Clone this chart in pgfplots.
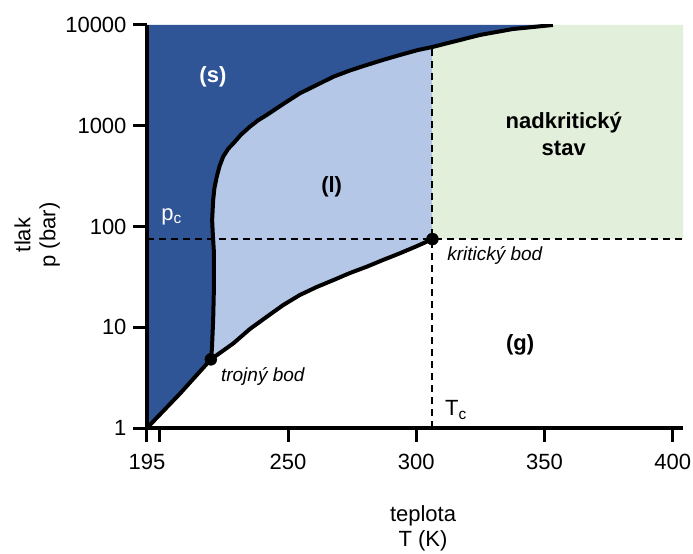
\documentclass[border=0pt]{standalone}
\usepackage{pgfplots}
\pgfplotsset{compat=1.18}
\usepackage{fontspec}
\setmainfont{Liberation Sans}
\definecolor{solidblue}{HTML}{2F5597}
\definecolor{liqblue}{HTML}{B4C7E7}
\definecolor{scgreen}{HTML}{E2EFDA}
\newcommand{\bigf}{\fontsize{22bp}{25bp}\selectfont}
\newcommand{\smallf}{\fontsize{19bp}{22bp}\selectfont}
\begin{document}
\begin{tikzpicture}
\begin{axis}[
  scale only axis, width=536bp, height=403bp,
  xmin=195, xmax=404, ymode=log, ymin=1, ymax=10000,
  axis lines=left, axis line style={-, line width=4bp},
  axis on top,
  xtick={195,200,250,300,350,400}, xticklabels={195,,250,300,350,400},
  ytick={1,10,100,1000,10000}, yticklabels={1,10,100,1000,10000},
  yminorticks=false,
  tick align=outside, major tick length=14bp,
  tick style={black, line width=3bp},
  tick label style={font=\bigf},
  xticklabel style={yshift=-9bp},
  yticklabel style={xshift=-3bp},
  xlabel={teplota\\T (K)}, ylabel={tlak\\p (bar)},
  label style={font=\bigf, align=center},
  xlabel style={at={(axis description cs:0.515,-0.25)}, anchor=center},
  ylabel style={at={(axis description cs:-0.205,0.479)}, anchor=center},
]
% solid region
\addplot[draw=none, fill=solidblue] coordinates {
(195,1) (207.9,2.2) (219.9,4.8) (220.3,6.0) (220.8,11.8) (221.1,25) (221.1,55) (220.6,90)
(220.4,116) (220.8,183) (221.3,241) (222.2,312) (223.3,398) (224.7,493) (226.6,588) (228.7,670)
(231.7,818) (235.1,978) (238.2,1127) (241.7,1279) (248.1,1644) (254.6,2099) (261.2,2540)
(267.7,3068) (274.1,3535) (280.7,4010) (287.0,4500) (293.6,5036) (300.7,5650) (306.3,6050)
(324.8,7960) (337.6,9120) (353.3,10000) (195,10000)};
% liquid region
\addplot[draw=none, fill=liqblue] coordinates {
(219.9,4.8) (220.3,6.0) (220.8,11.8) (221.1,25) (221.1,55) (220.6,90)
(220.4,116) (220.8,183) (221.3,241) (222.2,312) (223.3,398) (224.7,493) (226.6,588) (228.7,670)
(231.7,818) (235.1,978) (238.2,1127) (241.7,1279) (248.1,1644) (254.6,2099) (261.2,2540)
(267.7,3068) (274.1,3535) (280.7,4010) (287.0,4500) (293.6,5036) (300.7,5650) (306.3,6050)
(306.3,75) (300.3,64) (293.6,54.2) (287.0,46.5) (280.7,39.9) (274.1,34.5) (267.7,29.4)
(261.2,25.1) (254.6,20.9) (248.1,16.6) (241.7,12.7) (235.1,9.6) (228.7,6.93) (224.2,5.74) (219.9,4.8)};
% supercritical region
\addplot[draw=none, fill=scgreen] coordinates {
(306.3,75) (306.3,6050) (324.8,7960) (337.6,9120) (353.3,10000) (404,10000) (404,75)};
% dashed lines
\addplot[black, line width=2bp, dash pattern=on 7bp off 5bp] coordinates {(195,75) (404,75)};
\addplot[black, line width=2bp, dash pattern=on 7bp off 5bp] coordinates {(306.3,1) (306.3,6050)};
% melting curve
\addplot[black, line width=4bp, line join=round] coordinates {
(219.9,4.8) (220.3,6.0) (220.8,11.8) (221.1,25) (221.1,55) (220.6,90)
(220.4,116) (220.8,183) (221.3,241) (222.2,312) (223.3,398) (224.7,493) (226.6,588) (228.7,670)
(231.7,818) (235.1,978) (238.2,1127) (241.7,1279) (248.1,1644) (254.6,2099) (261.2,2540)
(267.7,3068) (274.1,3535) (280.7,4010) (287.0,4500) (293.6,5036) (300.7,5650) (306.3,6050)
(324.8,7960) (337.6,9120) (353.3,10000)};
% sublimation + vaporization
\addplot[black, line width=4bp, line join=round] coordinates {
(195,1) (207.9,2.2) (219.9,4.8) (224.2,5.74) (228.7,6.93) (235.1,9.6) (241.7,12.7) (248.1,16.6)
(254.6,20.9) (261.2,25.1) (267.7,29.4) (274.1,34.5) (280.7,39.9) (287.0,46.5) (293.6,54.2)
(300.3,64) (306.3,75)};
% points
\addplot[only marks, mark=*, mark size=6bp, black] coordinates {(219.9,4.8) (306.3,75)};
% labels
\node[text=white, font=\bfseries\bigf] at (axis cs:220.7,3048) {(s)};
\node[font=\bfseries\bigf] at (axis cs:267.0,248) {(l)};
\node[font=\bfseries\fontsize{22bp}{27bp}\selectfont, align=center] at (axis cs:357.5,828) {nadkritický\\stav};
\node[font=\bfseries\bigf] at (axis cs:340.5,6.67) {(g)};
\node[font=\itshape\smallf, anchor=west, inner sep=0pt] at (axis cs:312.0,52.1) {kritický bod};
\node[font=\itshape\smallf, anchor=west, inner sep=0pt] at (axis cs:223.8,3.21) {trojný bod};
\node[text=white, font=\bigf] at (axis cs:204.6,125) {p\textsubscript{c}};
\node[font=\bigf, anchor=west, inner sep=0pt] at (axis cs:311.2,1.51) {T\textsubscript{c}};
\end{axis}
\pgfresetboundingbox
\path[use as bounding box] (-147bp,-126bp) rectangle (546bp,428bp);
\end{tikzpicture}
\end{document}
